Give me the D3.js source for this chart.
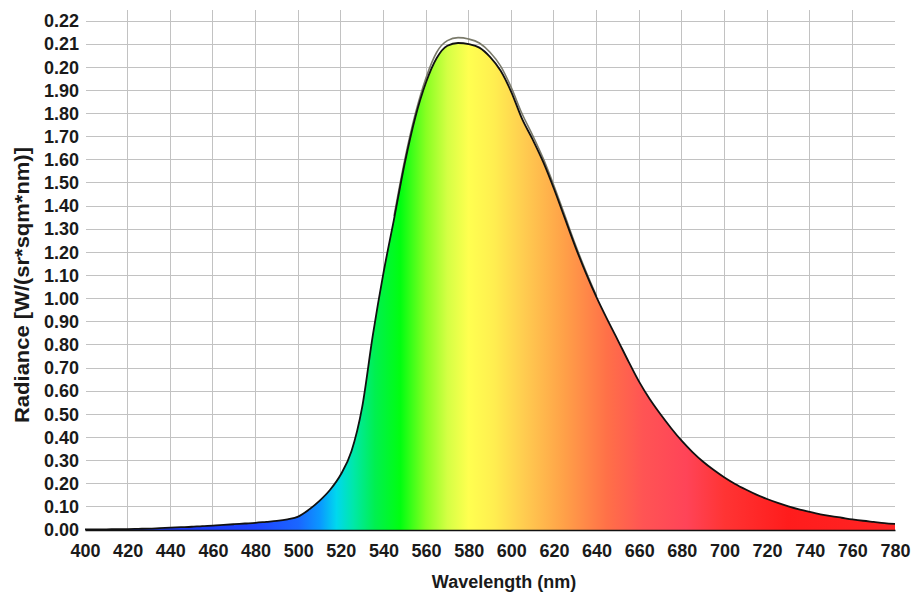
<!DOCTYPE html>
<html><head><meta charset="utf-8">
<script src="https://cdn.jsdelivr.net/npm/d3@7"></script>
<style>body{margin:0;background:#fff}svg{display:block}</style>
</head><body><svg id="c" width="916" height="597"></svg>
<script>
const wavelengths = [400,405,410,415,420,425,430,435,440,445,450,455,460,465,470,475,480,485,490,495,500,505,510,515,520,525,530,535,540,545,550,555,560,565,570,575,580,585,590,595,600,605,610,615,620,625,630,635,640,645,650,655,660,665,670,675,680,685,690,695,700,705,710,715,720,725,730,735,740,745,750,755,760,765,770,775,780];
const radiance = [0.0003,0.0003,0.0003,0.0004,0.0004,0.0005,0.0006,0.0008,0.0010,0.0012,0.0014,0.0017,0.0019,0.0022,0.0025,0.0028,0.0031,0.0035,0.0039,0.0046,0.0058,0.0088,0.0126,0.0174,0.0240,0.0340,0.0530,0.0840,0.1110,0.1345,0.1585,0.1785,0.1935,0.2040,0.2093,0.2105,0.2100,0.2085,0.2045,0.1985,0.1893,0.1778,0.1688,0.1590,0.1475,0.1350,0.1225,0.1110,0.1005,0.0910,0.0820,0.0728,0.0640,0.0565,0.0500,0.0440,0.0385,0.0337,0.0295,0.0259,0.0227,0.0199,0.0175,0.0153,0.0134,0.0117,0.0102,0.0089,0.0078,0.0068,0.0060,0.0053,0.0046,0.0040,0.0035,0.0030,0.0026];
const upperWavelengths = [545,550,555,560,565,570,575,580,585,590,595,600,605,610,615,620,625,630,635,640];
const upperRadiance = [0.1358,0.1600,0.1800,0.1955,0.2065,0.2115,0.2128,0.2122,0.2105,0.2065,0.2005,0.1912,0.1800,0.1706,0.1605,0.1488,0.1362,0.1235,0.1118,0.1010];
const xTicks = [400,420,440,460,480,500,520,540,560,580,600,620,640,660,680,700,720,740,760,780];
const yTickValues = [0,0.01,0.02,0.03,0.04,0.05,0.06,0.07,0.08,0.09,0.10,0.11,0.12,0.13,0.14,0.15,0.16,0.17,0.18,0.19,0.20,0.21,0.22];
const yTickLabels = ["0.00","0.10","0.20","0.30","0.40","0.50","0.60","0.70","0.80","0.90","1.00","1.10","1.20","1.30","1.40","1.50","1.60","1.70","1.80","1.90","0.20","0.21","0.22"];
const gradStops = [[400,"#1a2ce8"],[480,"#1e44ff"],[500,"#1a66ff"],[510,"#0b96ff"],[518,"#00d8ee"],[526,"#00e8a8"],[536,"#00f050"],[548,"#00ff10"],[560,"#88ff22"],[570,"#d4ff44"],[580,"#ffff50"],[592,"#ffee50"],[606,"#ffcc50"],[625,"#ffa048"],[645,"#ff7048"],[662,"#ff5454"],[682,"#ff4458"],[700,"#ff3434"],[730,"#ff1c1c"],[780,"#ff2424"]];

const svg = d3.select("#c");
const x = d3.scaleLinear().domain([400,780]).range([85,895]);
const y = d3.scaleLinear().domain([0,0.22]).range([530,21]);
const font = "'Liberation Sans', Arial, sans-serif";

const defs = svg.append("defs");
const g = defs.append("linearGradient").attr("id","spec").attr("gradientUnits","userSpaceOnUse")
  .attr("x1",x(400)).attr("x2",x(780)).attr("y1",0).attr("y2",0);
gradStops.forEach(s => g.append("stop").attr("offset",(s[0]-400)/380).attr("stop-color",s[1]));

// grid
svg.append("g").selectAll("line").data(xTicks.filter(t=>t>400 && t<780)).join("line")
  .attr("x1",d=>x(d)).attr("x2",d=>x(d)).attr("y1",10).attr("y2",530)
  .attr("stroke","#c2c2c2").attr("stroke-width",1).attr("shape-rendering","crispEdges");
svg.append("g").selectAll("line").data(yTickValues.slice(1)).join("line")
  .attr("x1",86).attr("x2",895).attr("y1",d=>y(d)).attr("y2",d=>y(d))
  .attr("stroke","#c2c2c2").attr("stroke-width",1).attr("shape-rendering","crispEdges");

const data = wavelengths.map((w,i)=>[w,radiance[i]]);
const upper = upperWavelengths.map((w,i)=>[w,upperRadiance[i]]);

svg.append("path").datum(data)
  .attr("d", d3.area().x(d=>x(d[0])).y0(y(0)).y1(d=>y(d[1])).curve(d3.curveMonotoneX))
  .attr("fill","url(#spec)");
svg.append("path").datum(upper)
  .attr("d", d3.line().x(d=>x(d[0])).y(d=>y(d[1])).curve(d3.curveMonotoneX))
  .attr("fill","none").attr("stroke","#7a7a6a").attr("stroke-width",1.6);
svg.append("path").datum(data)
  .attr("d", d3.line().x(d=>x(d[0])).y(d=>y(d[1])).curve(d3.curveMonotoneX))
  .attr("fill","none").attr("stroke","#111").attr("stroke-width",1.8);

// x axis
const xAxis = d3.axisBottom(x).tickValues(xTicks).tickSize(0).tickPadding(14).tickFormat(d3.format("d"));
const xa = svg.append("g").attr("transform","translate(0,530)").call(xAxis);
xa.select(".domain").attr("stroke","#111").attr("stroke-width",1.5);
xa.selectAll("text").attr("font-family",font).attr("font-weight","bold").attr("font-size",18).attr("fill","#1a1a1a");

// y axis
const yAxis = d3.axisLeft(y).tickValues(yTickValues).tickSize(0).tickPadding(6).tickFormat((d,i)=>yTickLabels[i]);
const ya = svg.append("g").attr("transform","translate(85,0)").call(yAxis);
ya.select(".domain").remove();
ya.selectAll("text").attr("font-family",font).attr("font-weight","bold").attr("font-size",18).attr("fill","#1a1a1a");

svg.append("text").attr("x",504).attr("y",588).attr("text-anchor","middle")
  .attr("font-family",font).attr("font-weight","bold").attr("font-size",18).attr("fill","#1a1a1a")
  .text("Wavelength (nm)");
svg.append("text").attr("transform","translate(29,285) rotate(-90)").attr("text-anchor","middle")
  .attr("font-family",font).attr("font-weight","bold").attr("font-size",20).attr("fill","#1a1a1a")
  .attr("textLength",276).attr("lengthAdjust","spacingAndGlyphs")
  .text("Radiance [W/(sr*sqm*nm)]");
</script></body></html>
